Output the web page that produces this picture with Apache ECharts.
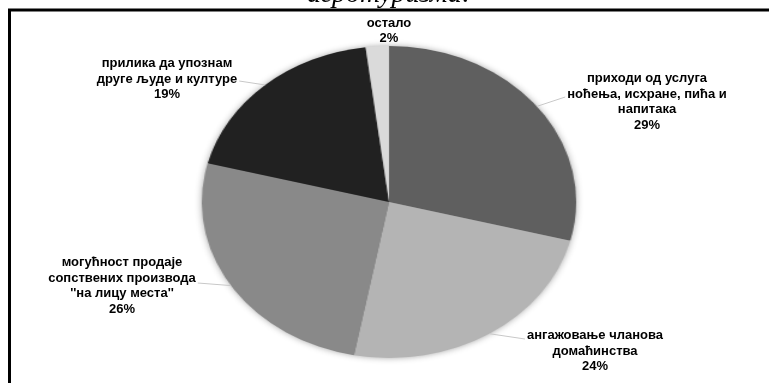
<!DOCTYPE html>
<html><head><meta charset="utf-8">
<script src="https://cdn.jsdelivr.net/npm/echarts@6/dist/echarts.min.js"></script>
<style>
html,body{margin:0;padding:0;background:#fff;overflow:hidden}
#wrap{position:relative;width:769px;height:383px;background:#fff}
#pie{position:absolute;left:0;top:0;width:769px;height:383px;transform:scaleX(1.2);transform-origin:389px 202px}
#lab{position:absolute;left:0;top:0;width:769px;height:383px}
</style></head><body>
<div id="wrap"><div id="pie"></div><div id="lab"></div></div>
<script>
// ---- data ----
const titleText = 'агротуризма:';
const categories = [
  'приходи од услуга\nноћења, исхране, пића и\nнапитака',
  'ангажовање чланова\nдомаћинства',
  "могућност продаје\nсопствених производа\n''на лицу места''",
  'прилика да упознам\nдруге људе и културе',
  'остало'
];
const values = [29, 24, 26, 19, 2];
const colors = ['#5f5f5f', '#b4b4b4', '#898989', '#212121', '#dadada'];

// ---- layout ----
const CX = 389, CY = 202, R = 156, SX = 1.2;
// label block centre x, centre y, leader end y
const labelPlace = [[647, 102, 97], [595, 351, 339], [122, 286, 283], [167, 79, 81], [389, 31, null]];

const total = values.reduce((a, b) => a + b, 0);
function midAngle(i) {
  let before = 0;
  for (let k = 0; k < i; k++) before += values[k];
  return (before + values[i] / 2) / total * Math.PI * 2;
}

// pie slices (stretched horizontally to an ellipse)
const pieChart = echarts.init(document.getElementById('pie'), null, {renderer: 'canvas'});
pieChart.setOption({
  animation: false,
  graphic: [{
    type: 'circle', z: 0, silent: true,
    shape: {cx: CX, cy: CY, r: R - 1},
    style: {fill: '#777', shadowBlur: 7, shadowColor: 'rgba(0,0,0,0.45)'}
  }],
  series: [{
    type: 'pie', z: 5,
    center: [CX, CY], radius: R,
    startAngle: 90, clockwise: true,
    silent: true,
    label: {show: false}, labelLine: {show: false},
    data: values.map((v, i) => ({value: v, name: categories[i], itemStyle: {color: colors[i]}}))
  }]
});

// labels, frame and title
const labChart = echarts.init(document.getElementById('lab'), null, {renderer: 'canvas'});
labChart.setOption({
  animation: false,
  graphic: [
    {type: 'polyline', silent: true, shape: {points: [[9.5, 383], [9.5, 10], [769, 10]]},
     style: {stroke: '#000', lineWidth: 3, fill: null}},
    {type: 'text', silent: true,
     style: {text: titleText, x: 389, y: -5, align: 'center', verticalAlign: 'middle',
             fontStyle: 'italic', fontSize: 28, fontFamily: 'Liberation Serif', fill: '#000'}}
  ],
  series: [{
    type: 'pie',
    center: [CX, CY], radius: R,
    startAngle: 90, clockwise: true,
    silent: true,
    itemStyle: {color: 'rgba(0,0,0,0)'},
    label: {
      show: true, position: 'outside', color: '#000',
      fontFamily: 'Liberation Sans', fontWeight: 'bold', fontSize: 13, lineHeight: 15.5,
      formatter: p => p.name + '\n' + Math.round(p.percent) + '%'
    },
    labelLine: {show: true, lineStyle: {color: '#c8c8c8', width: 1}},
    labelLayout: function (p) {
      const i = p.dataIndex, pl = labelPlace[i];
      const w = p.labelRect.width;
      const out = {x: pl[0], y: pl[1], align: 'center', verticalAlign: 'middle'};
      if (pl[2] != null) {
        const a = midAngle(i);
        const p0 = [CX + R * SX * Math.sin(a), CY - R * Math.cos(a)];
        const right = pl[0] > CX;
        const ex = right ? pl[0] - w / 2 - 2 : pl[0] + w / 2 + 2;
        out.labelLinePoints = [p0, [ex, pl[2]], [ex, pl[2]]];
      }
      return out;
    },
    data: values.map((v, i) => ({
      value: v, name: categories[i],
      labelLine: {show: labelPlace[i][2] != null}
    }))
  }]
});
</script>
</body></html>
